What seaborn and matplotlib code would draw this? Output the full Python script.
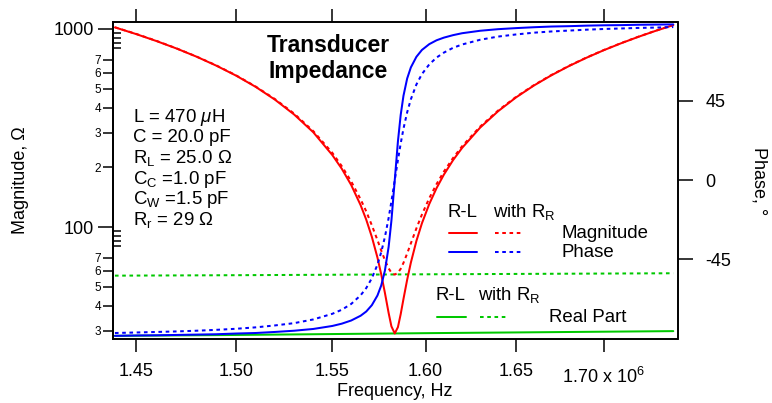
import numpy as np
import pandas as pd
import matplotlib
matplotlib.use('Agg')
import matplotlib.pyplot as plt
import seaborn as sns
from matplotlib.lines import Line2D
from matplotlib.ticker import FixedLocator, FixedFormatter, NullLocator

# values (frequency in MHz)
freq_mhz = [1.4395, 1.45, 1.46, 1.47, 1.48, 1.49, 1.50, 1.51, 1.52, 1.53, 1.54, 1.55,
            1.555, 1.56, 1.565, 1.568, 1.571, 1.574, 1.576, 1.578, 1.580, 1.5815,
            1.5833, 1.585, 1.5865, 1.588, 1.590, 1.592, 1.595, 1.598, 1.602, 1.606,
            1.61, 1.615, 1.62, 1.63, 1.64, 1.65, 1.66, 1.67, 1.68, 1.69, 1.70, 1.71,
            1.72, 1.73, 1.7407]
mag_rl = [1019, 942, 869, 797, 725, 653, 582, 511, 440, 370, 301, 231, 197, 163, 129,
          109, 89.2, 70.1, 57.8, 46.5, 36.8, 31.5, 29.0, 31.2, 36.3, 43.3, 54.2, 66.1,
          85.0, 104.4, 130.7, 157.3, 184.0, 217.4, 250.9, 317.8, 384.6, 451.3, 517.8,
          583.9, 649.9, 715.7, 781.4, 846.7, 912.0, 977.0, 1046]
mag_rr = [1020, 944, 871, 798, 726, 655, 584, 513, 443, 374, 305, 237, 203, 170, 138,
          120, 102, 85.9, 76.2, 68.0, 61.8, 58.8, 57.5, 58.7, 61.5, 65.9, 73.5, 82.7,
          98.4, 115.6, 139.8, 164.9, 190.6, 223.0, 255.8, 321.7, 387.8, 454.0, 520.1,
          586.0, 651.8, 717.4, 783.0, 848.2, 913.3, 978.2, 1048]
phase_rl = [-88.4, -88.2, -88.1, -87.9, -87.7, -87.5, -87.1, -86.8, -86.2, -85.5, -84.5,
            -82.8, -81.5, -79.7, -77.0, -74.6, -71.0, -65.5, -59.9, -51.4, -37.9, -23.0,
            0.0, 21.9, 37.0, 47.9, 57.7, 64.0, 70.0, 73.9, 77.2, 79.4, 80.9, 82.3, 83.4,
            84.8, 85.7, 86.3, 86.8, 87.2, 87.4, 87.7, 87.9, 88.0, 88.2, 88.3, 88.4]
phase_rr = [-86.8, -86.5, -86.2, -85.9, -85.5, -85.0, -84.4, -83.6, -82.5, -81.2, -79.1,
            -75.9, -73.6, -70.3, -65.4, -61.3, -55.7, -48.0, -41.0, -32.3, -21.5, -12.1,
            0.0, 11.4, 20.8, 29.2, 38.5, 45.9, 54.3, 60.2, 65.7, 69.6, 72.4, 75.1, 77.0,
            79.7, 81.5, 82.7, 83.7, 84.4, 84.9, 85.4, 85.8, 86.1, 86.4, 86.6, 86.9]

freq_re_mhz = [1.4395, 1.50, 1.55, 1.60, 1.65, 1.70, 1.7407]
re_rl = [28.2, 28.5, 28.8, 29.1, 29.35, 29.6, 29.8]
re_rr = [56.8, 57.1, 57.4, 57.7, 57.95, 58.2, 58.4]

x_ticks = [1.45e6, 1.50e6, 1.55e6, 1.60e6, 1.65e6, 1.70e6]
x_ticklabels = ['1.45', '1.50', '1.55', '1.60', '1.65', '']
last_label = '1.70 x 10$^6$'
params = ['L = 470 $\\mu$H', 'C = 20.0 pF', 'R$_\\mathrm{L}$ = 25.0 Ω',
          'C$_\\mathrm{C}$ =1.0 pF', 'C$_\\mathrm{W}$ =1.5 pF', 'R$_\\mathrm{r}$ = 29 Ω']

RED, BLUE, GREEN = '#ff0000', '#0000ff', '#00c800'
DOT = (0, (1.8, 1.8))

sns.set_style('ticks')
plt.rcParams['font.family'] = ['Liberation Sans', 'DejaVu Sans']
plt.rcParams['mathtext.fontset'] = 'custom'
plt.rcParams['mathtext.rm'] = 'Liberation Sans'
plt.rcParams['mathtext.it'] = 'Liberation Sans:italic'
plt.rcParams['axes.unicode_minus'] = False
for k in ['text.color', 'axes.labelcolor', 'xtick.color', 'ytick.color', 'axes.edgecolor']:
    plt.rcParams[k] = 'black'

W, H = 772, 403


def px(x, y):
    return x / W, 1 - y / H


fig = plt.figure(figsize=(W / 100, H / 100), dpi=100)
ax = fig.add_axes([112.7 / W, 1 - 339 / H, (677.5 - 112.7) / W, (339 - 22.3) / H])
ax2 = ax.twinx()

df = pd.DataFrame({'f': np.array(freq_mhz) * 1e6, 'mag_rl': mag_rl, 'mag_rr': mag_rr,
                   'ph_rl': phase_rl, 'ph_rr': phase_rr})
dre = pd.DataFrame({'f': np.array(freq_re_mhz) * 1e6, 're_rl': re_rl, 're_rr': re_rr})

kw = dict(estimator=None, sort=False, lw=1.45)
sns.lineplot(data=dre, x='f', y='re_rl', ax=ax, color=GREEN, **kw)
sns.lineplot(data=dre, x='f', y='re_rr', ax=ax, color=GREEN, linestyle=DOT, **kw)
sns.lineplot(data=df, x='f', y='mag_rl', ax=ax, color=RED, **kw)
sns.lineplot(data=df, x='f', y='mag_rr', ax=ax, color=RED, linestyle=DOT, **kw)
sns.lineplot(data=df, x='f', y='ph_rl', ax=ax2, color=BLUE, **kw)
sns.lineplot(data=df, x='f', y='ph_rr', ax=ax2, color=BLUE, linestyle=DOT, **kw)

ax.set_xscale('log')
ax.set_yscale('log')
ax.set_xlim(1.4384e6, 1.7432e6)
ax.set_ylim(27.19, 1081)
ax2.set_ylim(-90.2, 89.6)

# x axis
ax.xaxis.set_major_locator(FixedLocator(x_ticks))
ax.xaxis.set_major_formatter(FixedFormatter(x_ticklabels))
ax.xaxis.set_minor_locator(NullLocator())
ax.tick_params(axis='x', which='major', direction='out', length=9.6, width=1.1,
               top=True, labeltop=False, labelsize=13, pad=7.5, colors='black')
ax.text(x_ticks[-1], -0.139, last_label, transform=ax.get_xaxis_transform(),
        ha='center', va='baseline', fontsize=13)
ax.set_xlabel('Frequency, Hz', fontsize=13)
ax.xaxis.set_label_coords(0.5, -0.139)

# left axis: labeled decades, labeled minor digits, unlabeled inner ticks
ax.yaxis.set_major_locator(FixedLocator([100, 1000]))
ax.yaxis.set_major_formatter(FixedFormatter(['100', '1000']))
minor_vals = [30, 40, 50, 60, 70, 200, 300, 400, 500, 600, 700]
ax.yaxis.set_minor_locator(FixedLocator(minor_vals))
ax.yaxis.set_minor_formatter(FixedFormatter(['3', '4', '5', '6', '7', '2', '3', '4', '5', '6', '7']))
ax.tick_params(axis='y', which='major', direction='out', length=10.6, width=1.1,
               labelsize=13, pad=2.7, colors='black')
ax.tick_params(axis='y', which='minor', direction='out', length=7, width=1.1,
               labelsize=8.5, pad=1.5, colors='black')
ax.set_ylabel('Magnitude, Ω', fontsize=13)
ax.yaxis.set_label_coords(-0.148, 0.5)

sec = ax.secondary_yaxis('left')
sec.set_ticks([80, 85, 90, 95, 800, 850, 900, 950])
sec.yaxis.set_minor_locator(NullLocator())
sec.tick_params(axis='y', which='major', direction='in', length=5.8, width=1.1,
                labelleft=False, colors='black')

# right axis: phase
ax2.yaxis.set_major_locator(FixedLocator([-45, 0, 45]))
ax2.yaxis.set_major_formatter(FixedFormatter(['-45', '0', '45']))
ax2.yaxis.set_minor_locator(NullLocator())
ax2.tick_params(axis='y', direction='out', length=10.6, width=1.1, labelsize=13, pad=9.5,
                colors='black')
ax2.set_ylabel('Phase, °', fontsize=13, rotation=270, va='bottom')
ax2.yaxis.set_label_coords(1.130, 0.5)

for a in (ax, ax2):
    for s in a.spines.values():
        s.set_linewidth(1.2)
        s.set_color('black')
for s in sec.spines.values():
    s.set_linewidth(1.2)
    s.set_color('black')

# title inside plot
fig.text(*px(328, 52), 'Transducer', ha='center', va='baseline', fontsize=16.5,
         fontweight='bold')
fig.text(*px(328, 78), 'Impedance', ha='center', va='baseline', fontsize=16.5,
         fontweight='bold')

# parameter block
for i, s in enumerate(params):
    fig.text(*px(132.7, 121.7 + 20.6 * i), s, ha='left', va='baseline', fontsize=13.4)

# legend 1
fig.text(*px(447.3, 216.7), 'R-L', ha='left', va='baseline', fontsize=13.4)
fig.text(*px(493.3, 216.7), 'with R$_\\mathrm{R}$', ha='left', va='baseline', fontsize=13.4)
for yy, col, lab, yt in [(232.7, RED, 'Magnitude', 238.4), (251.7, BLUE, 'Phase', 256.7)]:
    fig.add_artist(Line2D([449.3 / W, 477.3 / W], [1 - yy / H] * 2, color=col, lw=1.45))
    fig.add_artist(Line2D([495 / W, 521.7 / W], [1 - yy / H] * 2, color=col, lw=1.45,
                          linestyle=DOT))
    fig.text(*px(561.7, yt), lab, ha='left', va='baseline', fontsize=13.4)

# legend 2
fig.text(*px(435.7, 300), 'R-L', ha='left', va='baseline', fontsize=13.4)
fig.text(*px(478.3, 300), 'with R$_\\mathrm{R}$', ha='left', va='baseline', fontsize=13.4)
fig.add_artist(Line2D([437.3 / W, 465.7 / W], [1 - 316.7 / H] * 2, color=GREEN, lw=1.45))
fig.add_artist(Line2D([480 / W, 506 / W], [1 - 316.7 / H] * 2, color=GREEN, lw=1.45,
                      linestyle=DOT))
fig.text(*px(549.3, 321.7), 'Real Part', ha='left', va='baseline', fontsize=13.4)

fig.savefig('out.png', dpi=100)
